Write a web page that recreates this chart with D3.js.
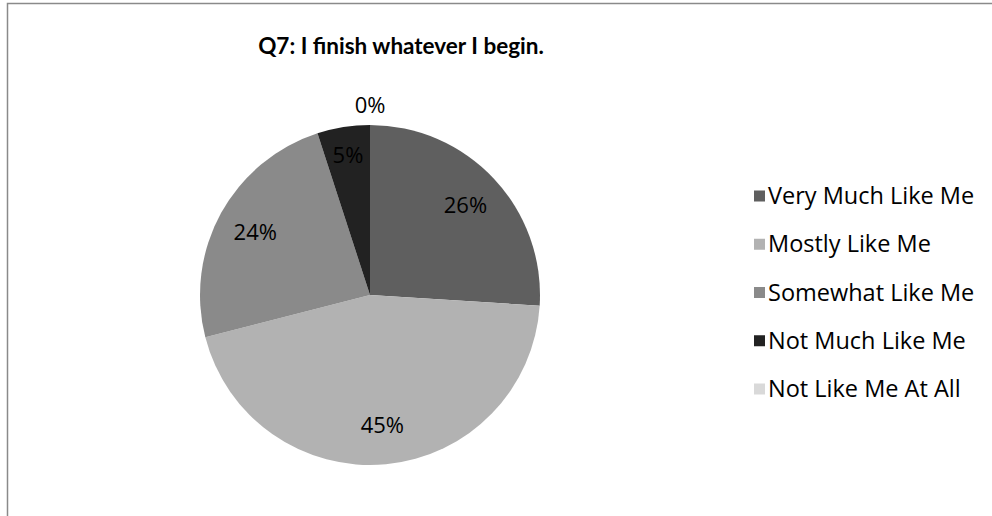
<!DOCTYPE html>
<html>
<head>
<meta charset="utf-8">
<script src="https://cdn.jsdelivr.net/npm/d3@7/dist/d3.min.js"></script>
<style>
  html, body { margin: 0; padding: 0; background: #fff; overflow: hidden; }
  svg { display: block; }
  text { font-family: "Open Sans", Lato, sans-serif; }
  text.title { font-family: Lato, "Open Sans", sans-serif; }
</style>
</head>
<body>
<svg id="chart" width="992" height="516"></svg>
<script>
// Survey responses for Q7
const chartTitle = "Q7: I finish whatever I begin.";
const categories = ["Very Much Like Me", "Mostly Like Me", "Somewhat Like Me", "Not Much Like Me", "Not Like Me At All"];
const percents = [26, 45, 24, 5, 0];
const sliceColors = ["#5f5f5f", "#b2b2b2", "#8a8a8a", "#222222", "#d9d9d9"];

const svg = d3.select("#chart");
const W = 992, H = 516;

// chart area frame: only the left and top edges fall inside the view
svg.append("path")
  .attr("d", `M7.5,${H + 2} V3.5 H${W + 2}`)
  .attr("fill", "none")
  .attr("stroke", "#8a8a8a")
  .attr("stroke-width", 1.5);

// title
svg.append("text")
  .attr("class", "title")
  .attr("x", 401).attr("y", 54)
  .attr("text-anchor", "middle")
  .attr("font-size", 22.5)
  .attr("font-weight", "bold")
  .attr("fill", "#000")
  .text(chartTitle);

const cx = 370, cy = 295, R = 170;
const data = categories.map((c, i) => ({ name: c, value: percents[i], color: sliceColors[i] }));

const pie = d3.pie().sort(null).value(d => d.value);
const arcs = pie(data);
const arc = d3.arc().innerRadius(0).outerRadius(R);

const g = svg.append("g").attr("transform", `translate(${cx},${cy})`);

g.selectAll("path.slice")
  .data(arcs)
  .join("path")
  .attr("class", "slice")
  .attr("d", arc)
  .attr("fill", d => d.data.color);

// data labels: inside for normal slices, a bit further out for thin ones,
// outside the pie for empty slices
function labelRadius(d) {
  if (d.data.value === 0) return R + 20;
  if (d.data.value < 10) return R * 0.83;
  return R * 0.77;
}
g.selectAll("text.lbl")
  .data(arcs)
  .join("text")
  .attr("class", "lbl")
  .attr("transform", d => {
    const r = labelRadius(d);
    const a = (d.startAngle + d.endAngle) / 2;
    return `translate(${Math.sin(a) * r},${-Math.cos(a) * r})`;
  })
  .attr("text-anchor", "middle")
  .attr("dy", "0.35em")
  .attr("font-size", 22)
  .attr("fill", "#000")
  .text(d => d.data.value + "%");

// legend
const legendY = d3.scalePoint().domain(categories).range([196, 389]);
const lg = svg.append("g");
const item = lg.selectAll("g.item")
  .data(data)
  .join("g")
  .attr("class", "item")
  .attr("transform", d => `translate(754,${legendY(d.name)})`);
item.append("rect")
  .attr("x", 0).attr("y", -5.5)
  .attr("width", 11).attr("height", 11)
  .attr("fill", d => d.color);
item.append("text")
  .attr("x", 14).attr("dy", "0.35em")
  .attr("font-size", 23.5)
  .attr("fill", "#000")
  .text(d => d.name);
</script>
</body>
</html>
